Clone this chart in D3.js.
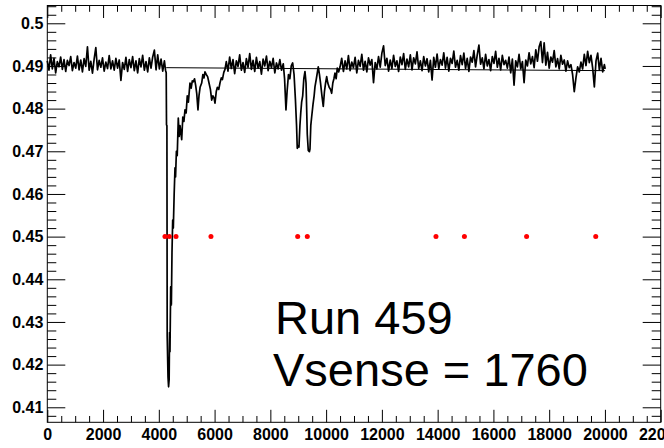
<!DOCTYPE html>
<html>
<head>
<meta charset="utf-8">
<script src="https://cdn.jsdelivr.net/npm/d3@7"></script>
<style>
  html, body { margin: 0; padding: 0; background: #fff; }
  svg { display: block; }
  .tick text { font-family: "Liberation Sans", Arial, sans-serif; font-weight: bold; font-size: 16px; fill: #000; }
</style>
</head>
<body>
<svg id="chart" width="664" height="448"></svg>
<script>
// ---------------- data ----------------
const xDomain = [0, 22000];
const yDomain = [0.40648, 0.50417];
const xMajorTicks = [0, 2000, 4000, 6000, 8000, 10000, 12000, 14000, 16000, 18000, 20000, 22000];
const yMajorTicks = [0.41, 0.42, 0.43, 0.44, 0.45, 0.46, 0.47, 0.48, 0.49, 0.5];
const sampleStep = 60;

// baseline noise before the first dip (samples every 60 starting at 0)
const seg1Start = 0;
const seg1V = [
  .4912, .4890, .4926, .4893, .4918, .4884, .4910, .4898, .4921, .4892,
  .4915, .4887, .4913, .4901, .4922, .4889, .4908, .4895, .4923, .4891,
  .4914, .4886, .4917, .4899, .4945, .4890, .4911, .4883, .4916, .4943,
  .4891, .4913, .4897, .4919, .4888, .4909, .4894, .4924, .4893, .4912,
  .4890, .4918, .4895, .4914, .4866, .4908, .4892, .4920, .4887, .4915,
  .4896, .4922, .4889, .4912, .4884, .4917, .4898, .4925, .4890, .4910,
  .4886, .4919, .4895, .4921, .4937, .4891, .4926, .4893, .4916, .4888,
  .4912
];
// the large dip and its recovery
const dip1 = [
  [4240, .4890], [4265, .4884], [4275, .4762], [4290, .4760], [4300, .4267],
  [4330, .4170], [4350, .4148], [4370, .4165], [4385, .4275], [4400, .4230],
  [4425, .4382], [4450, .4340], [4472, .4462], [4497, .4539], [4520, .4520],
  [4550, .4600], [4580, .4661], [4600, .4640], [4630, .4700], [4660, .4690],
  [4698, .4778], [4730, .4735], [4760, .4760], [4790, .4745], [4820, .4727],
  [4860, .4780], [4900, .4770], [4938, .4797], [4980, .4790], [5020, .4830],
  [5060, .4815], [5117, .4860], [5160, .4848], [5200, .4865], [5236, .4863],
  [5280, .4870], [5320, .4855], [5360, .4835], [5404, .4797], [5440, .4830],
  [5480, .4850], [5537, .4860], [5580, .4880], [5620, .4872], [5655, .4886],
  [5700, .4880], [5750, .4875], [5800, .4860], [5850, .4845], [5896, .4820],
  [5940, .4830], [5980, .4825], [6014, .4813], [6060, .4840], [6100, .4850],
  [6150, .4845], [6193, .4860], [6240, .4872], [6280, .4868], [6330, .4885],
  [6373, .4892]
];
// noise between the dips
const seg3Start = 6420;
const seg3V = [
  .4910, .4888, .4921, .4894, .4915, .4882, .4912, .4899, .4926, .4890,
  .4908, .4885, .4917, .4897, .4929, .4892, .4913, .4887, .4920, .4895,
  .4910, .4881, .4916, .4900, .4923, .4889, .4911, .4896, .4918, .4884,
  .4907, .4893, .4915, .4890
];
// the double dip
const dip2 = [
  [8463, .4905], [8510, .4870], [8560, .4797], [8600, .4840], [8650, .4880],
  [8700, .4870], [8750, .4900], [8800, .4907], [8850, .4880], [8900, .4820],
  [8940, .4760], [8965, .4707], [9000, .4712], [9026, .4710], [9060, .4760],
  [9090, .4790], [9123, .4816], [9160, .4830], [9200, .4870], [9242, .4887],
  [9280, .4860], [9324, .4740], [9360, .4702], [9400, .4699], [9421, .4705],
  [9450, .4760], [9482, .4781], [9530, .4810], [9570, .4830], [9600, .4851],
  [9650, .4870], [9718, .4898], [9760, .4880], [9800, .4860], [9850, .4830],
  [9898, .4805], [9940, .4840], [9980, .4860], [10020, .4875], [10060, .4860],
  [10110, .4850], [10160, .4845], [10199, .4836], [10240, .4860], [10280, .4870],
  [10317, .4883], [10360, .4870], [10400, .4895], [10450, .4886]
];
// noise after the dips
const seg5Start = 10500;
const seg5V = [
  .4898, .4918, .4887, .4912, .4893, .4924, .4889, .4909, .4896, .4920,
  .4884, .4913, .4899, .4927, .4890, .4911, .4886, .4919, .4902, .4915,
  .4861, .4908, .4893, .4922, .4897, .4930, .4947, .4901, .4918, .4888,
  .4914, .4894, .4925, .4899, .4912, .4887, .4921, .4903, .4929, .4892,
  .4916, .4898, .4926, .4891, .4919, .4905, .4933, .4894, .4912, .4889,
  .4922, .4900, .4917, .4886, .4913, .4867, .4920, .4897, .4928, .4893,
  .4915, .4902, .4931, .4895, .4920, .4888, .4918, .4906, .4935, .4897,
  .4913, .4890, .4924, .4903, .4930, .4894, .4918, .4887, .4921, .4909,
  .4936, .4898, .4926, .4949, .4904, .4919, .4893, .4927, .4900, .4915,
  .4889, .4922, .4906, .4934, .4897, .4918, .4891, .4925, .4903, .4913,
  .4895, .4921, .4884, .4916, .4855, .4912, .4898, .4927, .4893, .4910,
  .4861, .4914, .4900, .4931, .4905, .4922, .4896, .4938, .4911, .4945,
  .4957, .4908, .4954, .4902, .4932, .4895, .4921, .4909, .4936, .4898,
  .4917, .4893, .4925, .4904, .4914, .4888, .4912, .4896, .4903, .4880,
  .4840, .4872, .4898, .4886, .4909, .4893, .4927, .4901, .4934, .4908,
  .4925, .4895, .4851, .4912, .4930, .4890, .4918, .4886, .4903
];
const tail = [[20010, .4893]];

// fitted baseline
const baseline = [[4265, 0.4896], [20000, 0.4889]];

// red markers
const markerX = [4220, 4376, 4616, 5870, 8980, 9325, 13940, 14960, 17190, 19670];
const markerV = [0.45, 0.45, 0.45, 0.45, 0.45, 0.45, 0.45, 0.45, 0.45, 0.45];

const textLines = ["Run 459", "Vsense = 1760"];

// ---------------- chart ----------------
const svg = d3.select("#chart");
const L = 47.3, R = 660.7, T = 5.5, B = 422.3;
const x = d3.scaleLinear().domain(xDomain).range([L, R]);
const y = d3.scaleLinear().domain(yDomain).range([B, T]);

const trace = []
  .concat(seg1V.map((v, i) => [seg1Start + i * sampleStep, v]))
  .concat(dip1)
  .concat(seg3V.map((v, i) => [seg3Start + i * sampleStep, v]))
  .concat(dip2)
  .concat(seg5V.map((v, i) => [seg5Start + i * sampleStep, v]))
  .concat(tail);

const line = d3.line().x(d => x(d[0])).y(d => y(d[1]));

// baseline
svg.append("path").datum(baseline).attr("d", line)
  .attr("fill", "none").attr("stroke", "#000").attr("stroke-width", 1);

// trace
svg.append("path").datum(trace).attr("d", line)
  .attr("fill", "none").attr("stroke", "#000").attr("stroke-width", 1.7)
  .attr("stroke-linejoin", "round");

// markers
svg.append("g").selectAll("circle").data(markerX).join("circle")
  .attr("cx", d => x(d)).attr("cy", (d, i) => y(markerV[i]))
  .attr("r", 2.5).attr("fill", "#ff0000");

// minor ticks
const xMinor = d3.range(xDomain[0], xDomain[1] + 1, 500).filter(v => v % 2000 !== 0);
const yMinor = d3.range(0.406, 0.5041, 0.002).map(v => +v.toFixed(3))
  .filter(v => Math.abs(v * 100 - Math.round(v * 100)) > 1e-6 && v >= yDomain[0] && v <= yDomain[1]);

function axisG(axis, tr) {
  const g = svg.append("g").attr("transform", tr).call(axis);
  g.select(".domain").remove();
  g.selectAll(".tick line").attr("stroke", "#000").attr("stroke-width", 1);
  return g;
}

// bottom
axisG(d3.axisBottom(x).tickValues(xMajorTicks).tickSize(-12.5).tickSizeOuter(0).tickPadding(6.5)
  .tickFormat(d3.format("d")), `translate(0,${B})`);
axisG(d3.axisBottom(x).tickValues(xMinor).tickSize(-6.3).tickSizeOuter(0).tickFormat(""), `translate(0,${B})`);
// top
axisG(d3.axisTop(x).tickValues(xMajorTicks).tickSize(-12.5).tickSizeOuter(0).tickFormat(""), `translate(0,${T})`);
axisG(d3.axisTop(x).tickValues(xMinor).tickSize(-6.3).tickSizeOuter(0).tickFormat(""), `translate(0,${T})`);
// left
axisG(d3.axisLeft(y).tickValues(yMajorTicks).tickSize(-18).tickSizeOuter(0).tickPadding(4)
  .tickFormat(d => String(+d.toFixed(2))), `translate(${L},0)`);
axisG(d3.axisLeft(y).tickValues(yMinor).tickSize(-9).tickSizeOuter(0).tickFormat(""), `translate(${L},0)`);
// right
axisG(d3.axisRight(y).tickValues(yMajorTicks).tickSize(-18).tickSizeOuter(0).tickFormat(""), `translate(${R},0)`);
axisG(d3.axisRight(y).tickValues(yMinor).tickSize(-9).tickSizeOuter(0).tickFormat(""), `translate(${R},0)`);

// frame
svg.append("rect").attr("x", L).attr("y", T).attr("width", R - L).attr("height", B - T)
  .attr("fill", "none").attr("stroke", "#000").attr("stroke-width", 1);

// annotation text
svg.append("text").attr("x", 275).attr("y", 333.5)
  .attr("font-family", "Liberation Sans, Arial, sans-serif").attr("font-size", 47)
  .text(textLines[0]);
svg.append("text").attr("x", 273).attr("y", 386)
  .attr("font-family", "Liberation Sans, Arial, sans-serif").attr("font-size", 47)
  .text(textLines[1]);
</script>
</body>
</html>
